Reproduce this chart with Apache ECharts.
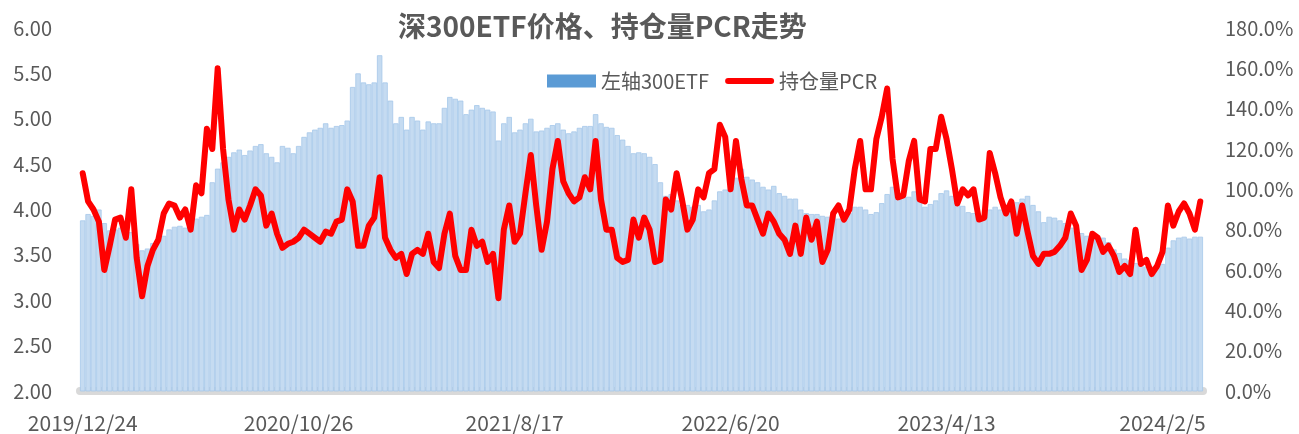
<!DOCTYPE html>
<html>
<head>
<meta charset="utf-8">
<script src="https://cdn.jsdelivr.net/npm/echarts@6/dist/echarts.min.js"></script>
<style>
  html, body { margin: 0; padding: 0; background: #fff; }
  #main { width: 1299px; height: 434px; }
</style>
</head>
<body>
<div id="main"></div>
<script>
// 横轴刻度标签（每40个点一个）
var tickLabels = ['2019/12/24', '2020/10/26', '2021/8/17', '2022/6/20', '2023/4/13', '2024/2/5'];
var labelStep = 40;

// 深300ETF价格（左轴）
var etfPrice = [
  3.88, 3.95, 3.93, 4.00, 3.85, 3.77, 3.78, 3.80, 3.77, 3.75, 3.62, 3.55, 3.57, 3.63, 3.67, 3.71, 3.78, 3.81, 3.82, 3.80, 3.82, 3.90, 3.92, 3.94,
  4.30, 4.45, 4.52, 4.58, 4.63, 4.66, 4.60, 4.65, 4.70, 4.72, 4.62, 4.58, 4.52, 4.70, 4.68, 4.62, 4.70, 4.80, 4.85, 4.88, 4.90, 4.95, 4.90,
  4.92, 4.93, 4.98, 5.35, 5.50, 5.40, 5.38, 5.40, 5.70, 5.40, 5.20, 4.95, 5.02, 4.88, 5.02, 4.98, 4.88, 4.97, 4.95, 4.95, 5.12, 5.24, 5.22,
  5.20, 5.05, 5.10, 5.15, 5.12, 5.10, 5.08, 4.76, 4.95, 5.02, 4.85, 4.88, 4.95, 5.00, 4.86, 4.87, 4.90, 4.93, 4.95, 4.88, 4.84, 4.86, 4.90, 4.92,
  4.92, 5.05, 4.95, 4.91, 4.90, 4.82, 4.77, 4.70, 4.62, 4.63, 4.62, 4.58, 4.50, 4.30, 4.15, 4.17, 4.10, 4.05, 4.05, 4.03, 4.05, 3.98, 4.00,
  4.10, 4.20, 4.22, 4.26, 4.35, 4.45, 4.36, 4.33, 4.30, 4.25, 4.22, 4.26, 4.18, 4.15, 4.12, 4.12, 4.00, 3.96, 3.95, 3.95, 3.93, 3.92, 3.94,
  3.90, 3.92, 3.96, 4.03, 4.03, 4.00, 3.95, 3.97, 4.07, 4.17, 4.25, 4.18, 4.18, 4.14, 4.20, 4.10, 4.03, 4.06, 4.10, 4.18, 4.21, 4.15, 4.06, 4.04,
  3.97, 3.96, 3.94, 3.94, 4.00, 4.03, 4.00, 4.03, 4.06, 4.08, 4.12, 4.15, 4.05, 3.98, 3.86, 3.92, 3.91, 3.88, 3.85, 3.80, 3.77, 3.74, 3.71,
  3.69, 3.69, 3.69, 3.64, 3.56, 3.52, 3.46, 3.44, 3.41, 3.38, 3.37, 3.37, 3.38, 3.40, 3.58, 3.66, 3.69, 3.70, 3.68, 3.70, 3.70
];

// 持仓量PCR（右轴，%）
var pcr = [
  108, 94, 90, 84, 60, 72, 85, 86, 76, 100, 66, 47, 62, 70, 75, 88, 93, 92, 86, 90, 80, 102, 98, 130,
  120, 160, 120, 95, 80, 90, 85, 92, 100, 97, 82, 88, 78, 71, 73, 74, 76, 80, 78, 76, 74, 79, 78,
  84, 85, 100, 94, 72, 72, 82, 86, 106, 76, 70, 66, 68, 58, 68, 70, 68, 78, 64, 61, 78, 88, 67,
  60, 60, 80, 72, 74, 64, 68, 46, 80, 92, 74, 78, 98, 117, 92, 70, 84, 110, 124, 104, 98, 94, 96, 106,
  100, 124, 95, 80, 80, 66, 64, 65, 85, 76, 86, 80, 64, 65, 95, 90, 108, 95, 80, 85, 100, 96, 108,
  110, 132, 126, 100, 124, 105, 92, 92, 85, 78, 88, 84, 78, 75, 68, 82, 68, 86, 75, 84, 64, 70, 88,
  92, 85, 90, 110, 124, 100, 100, 125, 136, 150, 115, 96, 97, 114, 124, 95, 94, 120, 120, 136, 125, 110, 93, 100,
  97, 100, 85, 86, 118, 108, 96, 88, 94, 78, 92, 79, 67, 63, 68, 68, 69, 72, 76, 88, 82, 60, 65,
  78, 76, 69, 72, 67, 59, 62, 58, 80, 63, 65, 58, 62, 69, 92, 82, 89, 93, 88, 80, 94
];

var days = etfPrice.map(function (v, i) { return i; });

var txtColor = '#595959';
var font = 'Noto Sans CJK SC';

var dom = document.getElementById('main');
var myChart = echarts.init(dom);
var option = {
  animation: false,
  title: {
    text: '深300ETF价格、持仓量PCR走势',
    left: 393,
    top: 7,
    textStyle: { fontSize: 28, fontWeight: 'bold', color: txtColor, fontFamily: font }
  },
  legend: {
    left: 542,
    top: 66,
    itemWidth: 49,
    itemHeight: 13,
    itemGap: 16,
    textStyle: { fontSize: 20, color: txtColor, fontFamily: font },
    data: [
      { name: '左轴300ETF', icon: 'rect', itemStyle: { color: '#5b9bd5', borderWidth: 0 } },
      // 图例里的红线：细长圆角条
      { name: '持仓量PCR', icon: 'path://M3,0 L46,0 A3,3 0 0 1 46,6 L3,6 A3,3 0 0 1 3,0 Z', itemStyle: { color: '#ff0000' } }
    ]
  },
  grid: { left: 80, right: 96, top: 28, bottom: 43 },
  xAxis: {
    type: 'category',
    data: days,
    offset: 4,
    axisLine: { lineStyle: { color: '#d9d9d9', width: 8 } },
    axisTick: { show: false },
    axisLabel: {
      interval: labelStep - 1,
      margin: 18,
      fontSize: 21,
      color: txtColor,
      fontFamily: font,
      formatter: function (v, idx) {
        return idx % labelStep === 0 ? tickLabels[idx / labelStep] : '';
      }
    }
  },
  yAxis: [
    {
      type: 'value',
      min: 2, max: 6, interval: 0.5,
      axisLine: { show: false },
      axisTick: { show: false },
      splitLine: { show: false },
      axisLabel: {
        margin: 28, fontSize: 20, color: txtColor, fontFamily: font,
        formatter: function (v) { return v.toFixed(2); }
      }
    },
    {
      type: 'value',
      min: 0, max: 180, interval: 20,
      axisLine: { show: false },
      axisTick: { show: false },
      splitLine: { show: false },
      axisLabel: {
        margin: 22, fontSize: 20, color: txtColor, fontFamily: font,
        formatter: function (v) { return v.toFixed(1) + '%'; }
      }
    }
  ],
  series: [
    {
      name: '左轴300ETF',
      type: 'bar',
      data: etfPrice,
      barCategoryGap: 0,
      itemStyle: { color: '#c5dbf1', borderColor: '#a6c8ea', borderWidth: 0.8 },
      emphasis: { disabled: true }
    },
    {
      name: '持仓量PCR',
      type: 'line',
      yAxisIndex: 1,
      data: pcr,
      symbol: 'none',
      itemStyle: { color: '#ff0000' },
      lineStyle: { color: '#ff0000', width: 6, cap: 'round', join: 'round' }
    }
  ]
};
myChart.setOption(option);
</script>
</body>
</html>
